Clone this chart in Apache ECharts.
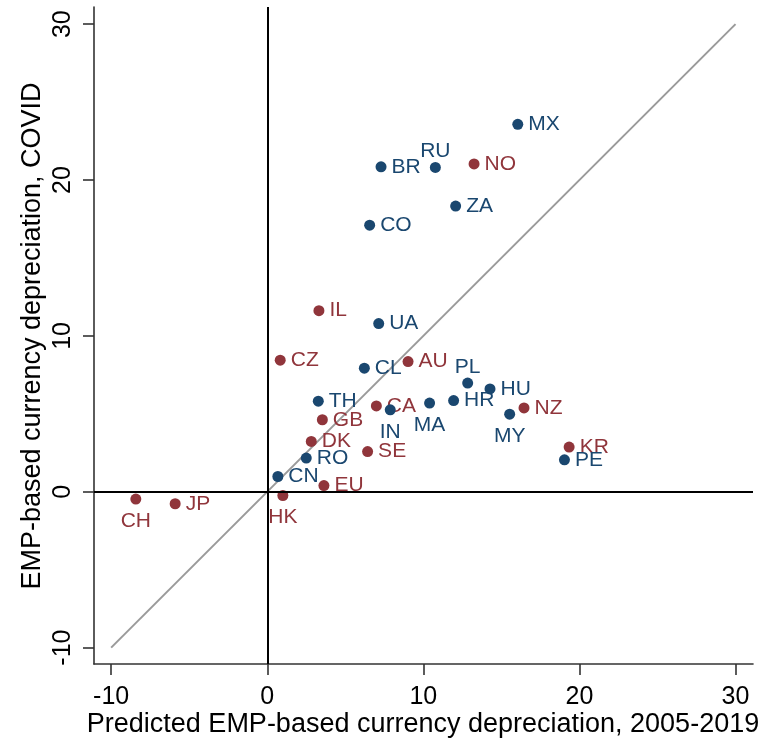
<!DOCTYPE html>
<html>
<head>
<meta charset="utf-8">
<script src="https://cdn.jsdelivr.net/npm/echarts@6/dist/echarts.min.js"></script>
<style>
html,body{margin:0;padding:0;background:#fff;}
#chart{width:777px;height:739px;}
</style>
</head>
<body>
<div id="chart"></div>
<script>
// ---- data ----
var blueCodes = ["MX","RU","BR","ZA","CO","UA","CL","PL","HU","TH","IN","MA","HR","MY","RO","CN","PE"];
var blueX     = [16.05,10.77,7.29,12.07,6.56,7.14,6.22,12.84,14.27,3.27,7.88,10.40,11.94,15.53,2.50,0.68,19.04];
var blueY     = [23.57,20.81,20.85,18.33,17.10,10.79,7.93,6.97,6.60,5.81,5.26,5.69,5.85,4.98,2.16,0.98,2.05];

var redCodes  = ["NO","IL","CZ","AU","CA","NZ","GB","DK","SE","EU","HK","KR","CH","JP"];
var redX      = [13.25,3.31,0.83,9.02,6.99,16.45,3.53,2.82,6.43,3.63,1.00,19.34,-8.42,-5.90];
var redY      = [21.03,11.62,8.44,8.35,5.51,5.38,4.62,3.23,2.58,0.40,-0.24,2.87,-0.47,-0.77];

var diagonal  = [[-10,-10],[30,30]];
var ticks     = [-10,0,10,20,30];
var xTitle    = "Predicted EMP-based currency depreciation, 2005-2019";
var yTitle    = "EMP-based currency depreciation, COVID";

// ---- styling ----
var BLUE = "#1a476f", RED = "#90353b";
var FONT = "'Liberation Sans', Arial, sans-serif";
var labelAbove = {RU:1, PL:1};
var labelBelow = {IN:1, MA:1, MY:1, CH:1, HK:1};

function build(codes, xs, ys, color){
  return codes.map(function(c,i){
    var lbl = {show:true, formatter:c, color:color, fontSize:21, fontFamily:FONT, position:'right', distance:5};
    if (labelAbove[c]) { lbl.position='top'; lbl.distance=0; }
    if (labelBelow[c]) { lbl.position='bottom'; lbl.distance=6; }
    return {value:[xs[i], ys[i]], label:lbl};
  });
}

var chart = echarts.init(document.getElementById('chart'), null, {renderer:'canvas'});
var axisCommon = {
  type:'value',
  splitLine:{show:false},
  axisLine:{show:true, onZero:false, lineStyle:{color:'#333', width:1.6}},
  axisTick:{show:true, length:11, lineStyle:{color:'#333', width:1.6}, customValues:ticks},
  axisLabel:{color:'#000', fontSize:25, fontFamily:FONT, customValues:ticks, showMinLabel:true, showMaxLabel:true}
};
var option = {
  animation:false,
  backgroundColor:'#fff',
  grid:{left:94, right:24, top:7, bottom:75, containLabel:false, outerBoundsMode:'none'},
  xAxis: echarts.util.merge({min:-11.1, max:31.12, axisLabel:{margin:21}}, axisCommon, false),
  yAxis: echarts.util.merge({min:-11.05, max:31.1, axisLabel:{margin:18, rotate:90}}, axisCommon, false),
  graphic:[
    {type:'text', left:'center', x:423, y:725, style:{text:xTitle, font:"27px "+FONT, fill:'#000', textAlign:'center', textVerticalAlign:'middle'}},
    {type:'text', x:33, y:336, rotation:Math.PI/2, style:{text:yTitle, font:"27px "+FONT, fill:'#000', textAlign:'center', textVerticalAlign:'middle'}}
  ],
  series:[
    {type:'line', data:diagonal, symbol:'none', silent:true, lineStyle:{color:'#9a9a9a', width:2}, z:1,
     markLine:{silent:true, symbol:['none','none'], label:{show:false}, lineStyle:{color:'#000', width:2, type:'solid'},
       data:[{xAxis:0},{yAxis:0}]}},
    {type:'scatter', data:build(redCodes, redX, redY, RED), symbolSize:11, itemStyle:{color:RED, opacity:1}, z:3},
    {type:'scatter', data:build(blueCodes, blueX, blueY, BLUE), symbolSize:11, itemStyle:{color:BLUE, opacity:1}, z:4}
  ]
};
// remove 'left' from x title graphic to use explicit x
delete option.graphic[0].left;
chart.setOption(option);
</script>
</body>
</html>
